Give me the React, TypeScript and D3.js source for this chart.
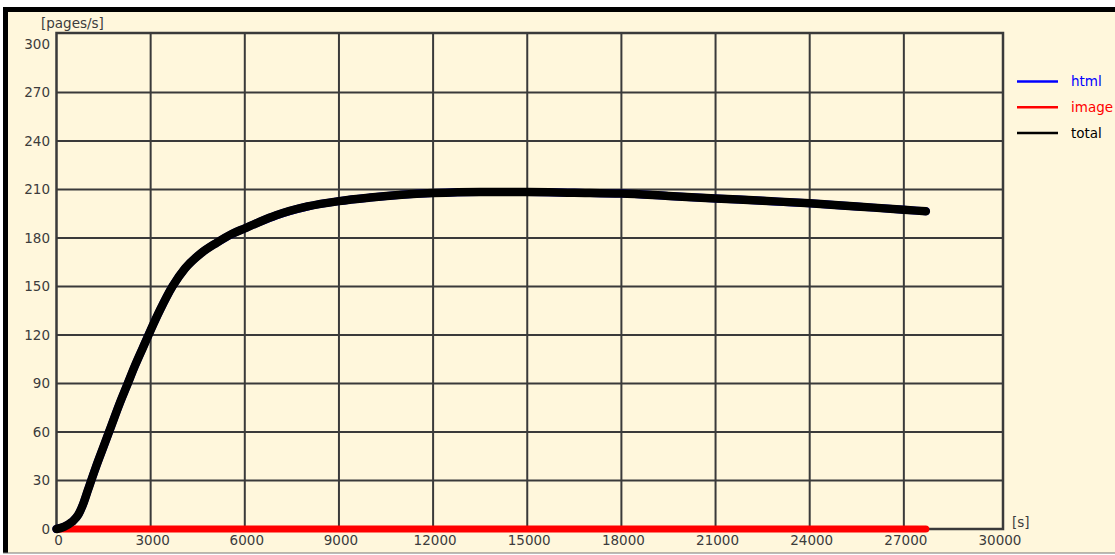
import React from "react";
import * as d3 from "d3";

// Request rate over time, pages per second
const timeSec = [
  0, 250, 500, 700, 850, 1000, 1250, 1500, 1750, 2000, 2250, 2500, 2750, 3000,
  3300, 3700, 4100, 4600, 5100, 5600, 6000, 6500, 7000, 8000, 9000, 10000,
  11000, 12000, 13500, 15000, 16500, 18000, 19500, 21000, 22500, 24000, 25500,
  27000, 27700,
];
const htmlRate = [
  0, 1.5, 4.5, 9, 15.5, 24, 38, 51, 64, 77, 89, 101, 112, 123, 135.5, 150.2,
  161.3, 170.5, 177, 182.6, 186, 190.2, 194, 199.5, 202.8, 205, 206.7, 207.8,
  208.5, 208.5, 208, 207.5, 206, 204.5, 203, 201.5, 199.5, 197.5, 196.5,
];
const imageTimes = [0, 27700];
const imageRate = [0, 0];

const xTicks = [0, 3000, 6000, 9000, 12000, 15000, 18000, 21000, 24000, 27000, 30000];
const yTicks = [0, 30, 60, 90, 120, 150, 180, 210, 240, 270, 300];

const legendItems = [
  { label: "html", color: "#0000ff" },
  { label: "image", color: "#ff0000" },
  { label: "total", color: "#000000" },
];

const W = 1115;
const H = 555;
const frame = { left: 56.5, top: 33, right: 1003, bottom: 529 };
const gridColor = "#3a3a3a";
const textColor = "#3c3c3c";
const font = "'DejaVu Sans', Verdana, sans-serif";

export default function App() {
  const x = d3.scaleLinear().domain([0, 30000]).range([56.5, 998]);
  const y = d3.scaleLinear().domain([0, 300]).range([529, 44]);

  // total = html + image (image is zero throughout)
  const imageAt = d3.scaleLinear().domain(imageTimes).range(imageRate).clamp(true);
  const totalRate = htmlRate.map((v, i) => v + imageAt(timeSec[i]));

  const line = d3
    .line<[number, number]>()
    .x((d) => x(d[0]))
    .y((d) => y(d[1]))
    .curve(d3.curveMonotoneX);

  const htmlPath = line(timeSec.map((t, i) => [t, htmlRate[i]]) as [number, number][]) || "";
  const imagePath = line(imageTimes.map((t, i) => [t, imageRate[i]]) as [number, number][]) || "";
  const totalPath = line(timeSec.map((t, i) => [t, totalRate[i]]) as [number, number][]) || "";

  return (
    <div style={{ position: "fixed", left: 0, top: 0, width: W, height: H }}>
      <svg width={W} height={H} style={{ display: "block", background: "#ffffff" }}>
        {/* panel */}
        <rect x={3} y={7} width={W - 3} height={546} fill="#fff7dc" />
        <rect x={3} y={7} width={5} height={546} fill="#000" />
        <rect x={3} y={7} width={W - 3} height={5} fill="#000" />
        <rect x={3} y={552.5} width={W - 3} height={1} fill="#777" />

        {/* grid */}
        {xTicks
          .filter((t) => t > 0 && t < 30000)
          .map((t) => (
            <line key={"gx" + t} x1={x(t)} x2={x(t)} y1={frame.top} y2={frame.bottom} stroke={gridColor} strokeWidth={2} />
          ))}
        {yTicks
          .filter((t) => t > 0 && t < 300)
          .map((t) => (
            <line key={"gy" + t} x1={frame.left} x2={frame.right} y1={y(t)} y2={y(t)} stroke={gridColor} strokeWidth={2} />
          ))}
        <rect
          x={frame.left}
          y={frame.top}
          width={frame.right - frame.left}
          height={frame.bottom - frame.top}
          fill="none"
          stroke={gridColor}
          strokeWidth={2.5}
        />

        {/* tick labels */}
        {yTicks.map((t) => (
          <text key={"ty" + t} x={50} y={y(t)} dy="0.36em" textAnchor="end" fontFamily={font} fontSize={13.5} fill={textColor}>
            {t}
          </text>
        ))}
        {xTicks.map((t) => (
          <text key={"tx" + t} x={x(t) + 2} y={540} dy="0.36em" textAnchor="middle" fontFamily={font} fontSize={13.5} fill={textColor}>
            {t}
          </text>
        ))}
        <text x={41} y={23} dy="0.36em" fontFamily={font} fontSize={13.5} fill={textColor}>
          [pages/s]
        </text>
        <text x={1012} y={522} dy="0.36em" fontFamily={font} fontSize={13.5} fill={textColor}>
          [s]
        </text>

        {/* series */}
        <path d={htmlPath} fill="none" stroke="#0000ff" strokeWidth={8} strokeLinejoin="round" strokeLinecap="round" />
        <path d={imagePath} fill="none" stroke="#ff0000" strokeWidth={7} strokeLinecap="round" />
        <path d={totalPath} fill="none" stroke="#000000" strokeWidth={8.5} strokeLinejoin="round" strokeLinecap="round" />

        {/* legend */}
        {legendItems.map((it, i) => {
          const ly = 81.5 + i * 25.8;
          return (
            <g key={it.label}>
              <line x1={1017} x2={1058} y1={ly} y2={ly} stroke={it.color} strokeWidth={2.5} />
              <text x={1071} y={ly} dy="0.36em" fontFamily={font} fontSize={13.5} fill={it.color}>
                {it.label}
              </text>
            </g>
          );
        })}
      </svg>
    </div>
  );
}
